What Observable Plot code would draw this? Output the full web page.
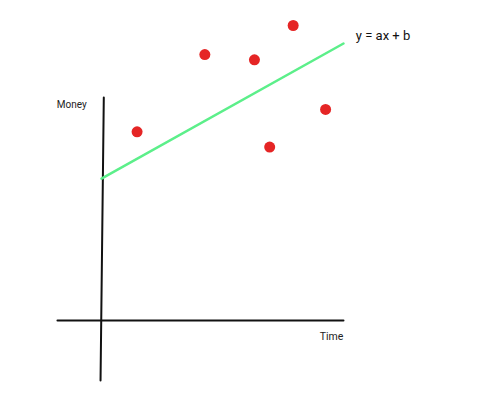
<!DOCTYPE html>
<html>
<head>
<meta charset="utf-8">
<script src="https://cdn.jsdelivr.net/npm/d3@7"></script>
<script src="https://cdn.jsdelivr.net/npm/@observablehq/plot@0.6"></script>
<style>
  html, body { margin: 0; padding: 0; background: #fff; }
  #chart svg { display: block; }
</style>
</head>
<body>
<div id="chart"></div>
<script>
// Observations (time, money)
const obsTime  = [14.7, 42.7, 63.2, 79.2, 92.6, 69.5];
const obsMoney = [68.1, 96.0, 94.1, 106.5, 76.2, 62.6];

// Trend line y = ax + b endpoints
const trendTime  = [0, 100];
const trendMoney = [51.2, 100];

// Hand-drawn axes
const xAxisTime  = [-18.2, 100];
const xAxisMoney = [0, 0];
const yAxisTime  = [0.95, -0.4];
const yAxisMoney = [80.5, -21.7];

const labels = ["Money", "Time", "y = ax + b"];

const dots = obsTime.map((t, i) => ({t, m: obsMoney[i]}));
const trend = trendTime.map((t, i) => ({t, m: trendMoney[i]}));
const xAxis = xAxisTime.map((t, i) => ({t, m: xAxisMoney[i]}));
const yAxis = yAxisTime.map((t, i) => ({t, m: yAxisMoney[i]}));

const chart = Plot.plot({
  width: 500,
  height: 400,
  marginLeft: 101,
  marginRight: 157,
  marginTop: 43,
  marginBottom: 80,
  style: {fontFamily: "Roboto, sans-serif", background: "#fff"},
  x: {domain: [0, 100], axis: null},
  y: {domain: [0, 100], axis: null},
  marks: [
    Plot.line(xAxis, {x: "t", y: "m", stroke: "#111", strokeWidth: 2, clip: false}),
    Plot.line(yAxis, {x: "t", y: "m", stroke: "#111", strokeWidth: 2, clip: false}),
    Plot.line(trend, {x: "t", y: "m", stroke: "#5cef8a", strokeWidth: 2.5}),
    Plot.dot(dots, {x: "t", y: "m", r: 5.5, fill: "#e52525", stroke: null}),
    Plot.text([labels[0]], {x: -18.5, y: 77.8, text: d => d, textAnchor: "start", fontSize: 10, fill: "#222", style: "letter-spacing:-0.3px"}),
    Plot.text([labels[1]], {x: 90.2, y: -6, text: d => d, textAnchor: "start", fontSize: 10.5, fill: "#222", style: "letter-spacing:-0.2px"}),
    Plot.text([labels[2]], {x: 105.1, y: 102.6, text: d => d, textAnchor: "start", fontSize: 13, fill: "#111"})
  ]
});
document.getElementById("chart").appendChild(chart);
</script>
</body>
</html>
